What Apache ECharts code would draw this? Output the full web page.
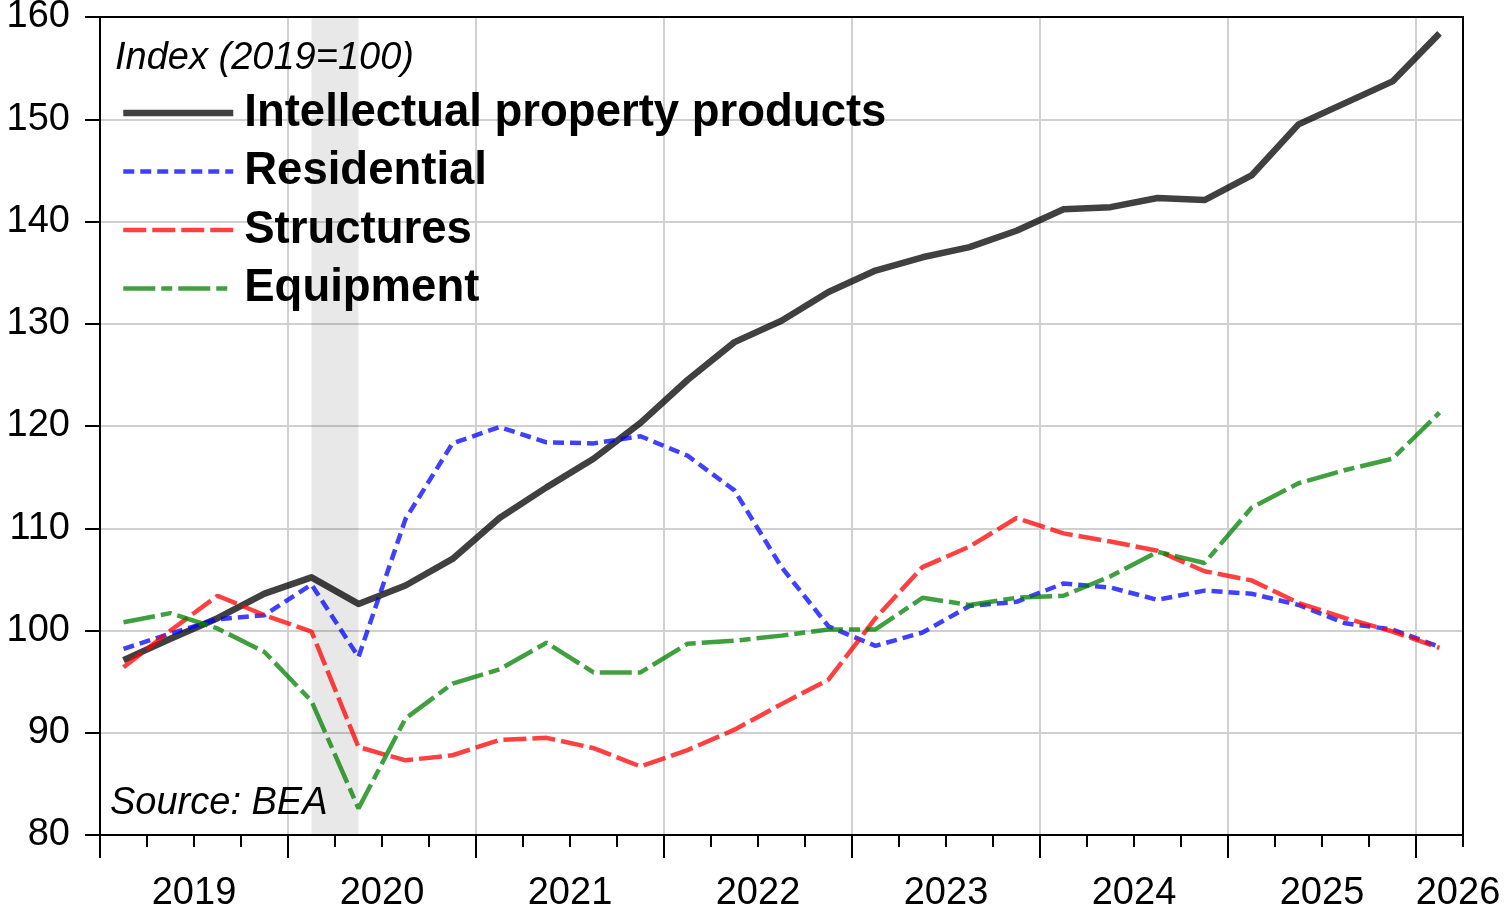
<!DOCTYPE html>
<html>
<head>
<meta charset="utf-8">
<title>Investment by type</title>
<script src="https://cdn.jsdelivr.net/npm/echarts@6/dist/echarts.min.js"></script>
<style>
  html, body { margin: 0; padding: 0; background: #fff; }
  #chart { width: 1504px; height: 908px; }
</style>
</head>
<body>
<div id="chart"></div>
<script>
/***
 Data: real investment indexes, 2019 = 100, quarterly
***/

var quarters = [
  '2019Q1', '2019Q2', '2019Q3', '2019Q4',
  '2020Q1', '2020Q2', '2020Q3', '2020Q4',
  '2021Q1', '2021Q2', '2021Q3', '2021Q4',
  '2022Q1', '2022Q2', '2022Q3', '2022Q4',
  '2023Q1', '2023Q2', '2023Q3', '2023Q4',
  '2024Q1', '2024Q2', '2024Q3', '2024Q4',
  '2025Q1', '2025Q2', '2025Q3', '2025Q4',
  '2026Q1'
];
var years = ['2019', '2020', '2021', '2022', '2023', '2024', '2025', '2026'];

var ipp = [
  97.1, 99.2, 101.2, 103.6,
  105.2, 102.6, 104.4, 107.0,
  111.0, 114.0, 116.8, 120.3,
  124.5, 128.2, 130.3, 133.1,
  135.2, 136.5, 137.5, 139.1,
  141.2, 141.4, 142.3, 142.1,
  144.5, 149.5, 151.6, 153.7,
  158.4
];
var residential = [
  98.2, 99.7, 101.1, 101.5,
  104.5, 97.4, 110.9, 118.3,
  119.9, 118.4, 118.3, 119.0,
  117.1, 113.7, 106.2, 100.4,
  98.5, 99.8, 102.4, 102.8,
  104.6, 104.2, 103.0, 103.9,
  103.6, 102.5, 100.7, 100.1,
  98.4
];
var structures = [
  96.4, 100.0, 103.4, 101.5,
  99.9, 88.6, 87.3, 87.8,
  89.3, 89.5, 88.5, 86.7,
  88.3, 90.3, 92.8, 95.2,
  101.2, 106.2, 108.2, 111.0,
  109.5, 108.7, 107.8, 105.8,
  104.9, 102.7, 101.2, 99.9,
  98.3
];
var equipment = [
  100.8, 101.7, 100.2, 97.9,
  93.1, 82.6, 91.4, 94.8,
  96.2, 98.8, 95.9, 95.9,
  98.7, 99.0, 99.5, 100.1,
  100.1, 103.2, 102.5, 103.2,
  103.4, 105.3, 107.7, 106.6,
  112.0, 114.4, 115.7, 116.8,
  121.3
];

// recession band (first and last quarter)
var recession = ['2020Q1', '2020Q2'];

var FONT = '"Liberation Sans", Arial, Helvetica, sans-serif';

// put each value at the middle of its quarter
function toPoints(arr) {
  return arr.map(function (v, i) { return [i + 0.5, v]; });
}

var nQ = quarters.length;
var yearTicks = [];
for (var k = 0; k < nQ; k += 4) yearTicks.push(k);

var chart = echarts.init(document.getElementById('chart'));

var blackLine = { color: '#000', width: 2 };
var gridLine = { color: '#d0d0d0', width: 2 };

var option = {
  animation: false,
  backgroundColor: '#fff',
  grid: { left: 100, right: 41, top: 17, bottom: 73, containLabel: false, outerBoundsMode: 'none' },
  xAxis: [
    {
      // quarter ticks + year labels
      type: 'value', min: 0, max: nQ, interval: 1, position: 'bottom', z: 5,
      axisLine: { show: true, onZero: false, lineStyle: blackLine },
      axisTick: { show: true, length: 12, lineStyle: blackLine },
      axisLabel: {
        show: true, margin: 40, fontSize: 38, color: '#000', fontFamily: FONT,
        formatter: function (v) {
          if (v === nQ) return '{last|' + years[years.length - 1] + '}';
          if (v % 4 === 2) return years[(v - 2) / 4];
          return '';
        },
        rich: {
          last: { fontSize: 38, color: '#000', fontFamily: FONT, padding: [0, 10, 0, 0] }
        }
      },
      splitLine: { show: false }
    },
    {
      // year ticks + vertical grid
      type: 'value', min: 0, max: nQ, interval: 4, position: 'bottom', z: 0,
      axisLine: { show: false, onZero: false },
      axisTick: { show: true, length: 23, lineStyle: blackLine, customValues: yearTicks },
      axisLabel: { show: false },
      splitLine: { show: true, lineStyle: gridLine }
    },
    {
      // top border
      type: 'value', min: 0, max: nQ, position: 'top', z: 5,
      axisLine: { show: true, onZero: false, lineStyle: blackLine },
      axisTick: { show: false }, axisLabel: { show: false }, splitLine: { show: false }
    }
  ],
  yAxis: [
    {
      // horizontal grid only
      type: 'value', min: 80, max: 160, interval: 10, position: 'left', z: 0,
      axisLine: { show: false }, axisTick: { show: false }, axisLabel: { show: false },
      splitLine: { show: true, lineStyle: gridLine }
    },
    {
      type: 'value', min: 80, max: 160, interval: 10, position: 'left', z: 5,
      axisLine: { show: true, onZero: false, lineStyle: blackLine },
      axisTick: { show: true, length: 15, lineStyle: blackLine },
      axisLabel: { show: true, margin: 30, fontSize: 38, color: '#000', fontFamily: FONT },
      splitLine: { show: false }
    },
    {
      // right border
      type: 'value', min: 80, max: 160, position: 'right', z: 5,
      axisLine: { show: true, onZero: false, lineStyle: blackLine },
      axisTick: { show: false }, axisLabel: { show: false }, splitLine: { show: false }
    }
  ],
  legend: {
    orient: 'vertical', left: 120, top: 90, padding: 0,
    itemWidth: 110, itemHeight: 8, itemGap: 12.5,
    selectedMode: false,
    itemStyle: { opacity: 0 },
    lineStyle: { width: 'inherit' },
    textStyle: {
      fontSize: 45.5, fontWeight: 'bold', color: '#000', fontFamily: FONT,
      lineHeight: 45, padding: [0, 0, 0, 6]
    },
    data: ['Intellectual property products', 'Residential', 'Structures', 'Equipment']
  },
  graphic: [
    {
      type: 'text', left: 115, top: 39, z: 10,
      style: { text: 'Index (2019=100)', fill: '#000', font: 'italic 38px ' + FONT }
    },
    {
      type: 'text', left: 110, top: 784, z: 10,
      style: { text: 'Source: BEA', fill: '#000', font: 'italic 38px ' + FONT }
    }
  ],
  series: [
    {
      name: 'Intellectual property products', type: 'line', xAxisIndex: 0, yAxisIndex: 0,
      symbol: 'none', z: 3,
      lineStyle: { color: 'rgba(0,0,0,0.75)', width: 6.5, type: 'solid', join: 'round' },
      itemStyle: { color: 'rgba(0,0,0,0.75)' },
      data: toPoints(ipp),
      markArea: {
        silent: true,
        itemStyle: { color: 'rgba(0,0,0,0.09)' },
        data: [[
          { xAxis: quarters.indexOf(recession[0]) + 0.5 },
          { xAxis: quarters.indexOf(recession[1]) + 0.5 }
        ]]
      }
    },
    {
      name: 'Residential', type: 'line', xAxisIndex: 0, yAxisIndex: 0,
      symbol: 'none', z: 3,
      lineStyle: { color: 'rgba(0,0,255,0.75)', width: 4.5, type: [11, 6] },
      itemStyle: { color: 'rgba(0,0,255,0.75)' },
      data: toPoints(residential)
    },
    {
      name: 'Structures', type: 'line', xAxisIndex: 0, yAxisIndex: 0,
      symbol: 'none', z: 3,
      lineStyle: { color: 'rgba(255,0,0,0.75)', width: 4.5, type: [23, 6] },
      itemStyle: { color: 'rgba(255,0,0,0.75)' },
      data: toPoints(structures)
    },
    {
      name: 'Equipment', type: 'line', xAxisIndex: 0, yAxisIndex: 0,
      symbol: 'none', z: 3,
      lineStyle: { color: 'rgba(0,128,0,0.75)', width: 4.5, type: [32, 6, 11, 6] },
      itemStyle: { color: 'rgba(0,128,0,0.75)' },
      data: toPoints(equipment)
    }
  ]
};

chart.setOption(option);
</script>
</body>
</html>
